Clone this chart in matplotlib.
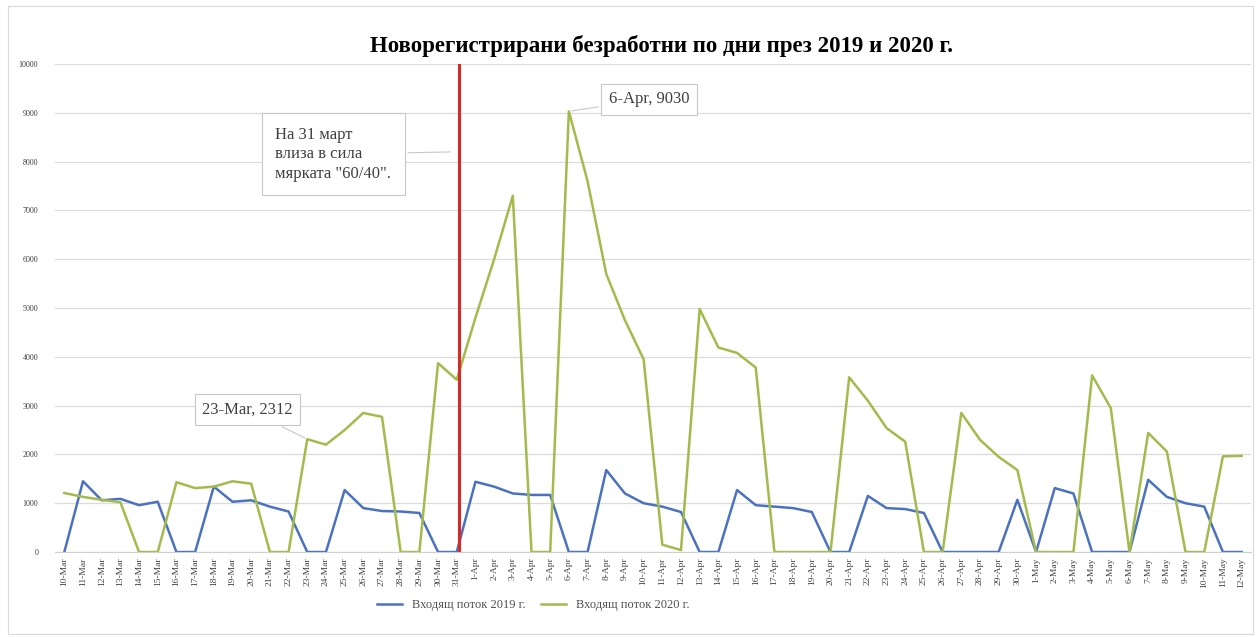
import pandas as pd
import numpy as np
import matplotlib.pyplot as plt
from matplotlib.patches import Rectangle

plt.rcParams['font.family'] = ['Liberation Serif', 'DejaVu Serif']

# days from 10 March to 12 May
dates = pd.date_range('2020-03-10', '2020-05-12')
day_labels = [f"{d.day}-{d.strftime('%b')}" for d in dates]

# incoming flow 2019 (blue)
flow_2019 = [0, 1450, 1060, 1090, 960, 1030, 0, 0, 1340, 1030,
             1060, 930, 830, 0, 0, 1270, 900, 840, 830, 800,
             0, 0, 1440, 1340, 1200, 1170, 1170, 0, 0, 1680,
             1200, 1000, 930, 820, 0, 0, 1270, 960, 930, 900,
             820, 0, 0, 1150, 900, 880, 800, 0, 0, 0,
             0, 1070, 0, 1310, 1200, 0, 0, 0, 1480, 1130,
             1000, 930, 0, 0]

# incoming flow 2020 (green)
flow_2020 = [1210, 1130, 1070, 1020, 0, 0, 1430, 1310, 1340, 1450,
             1400, 0, 0, 2312, 2200, 2500, 2850, 2770, 0, 0,
             3870, 3530, 4800, 6000, 7300, 0, 0, 9030, 7600, 5700,
             4750, 3950, 150, 40, 4980, 4190, 4080, 3780, 0, 0,
             0, 0, 3580, 3100, 2540, 2260, 0, 0, 2850, 2300,
             1950, 1680, 0, 0, 0, 3620, 2950, 0, 2440, 2060,
             0, 0, 1960, 1970]

title = 'Новорегистрирани безработни по дни през 2019 и 2020 г.'
label_2019 = 'Входящ поток 2019 г.'
label_2020 = 'Входящ поток 2020 г.'
note = 'На 31 март\nвлиза в сила\nмярката "60/40".'
measure_day = '31-Mar'

blue = '#4a72c0'
green = '#a2bb4c'
grey_txt = '#404040'

fig = plt.figure(figsize=(12.58, 6.37), dpi=100)
fig.patches.append(Rectangle((0.006, 0.005), 0.99, 0.985, transform=fig.transFigure,
                             fill=False, edgecolor='#d9d9d9', lw=0.8))
ax = fig.add_axes([0.0437, 0.1334, 0.9507, 0.7661])

x = np.arange(len(day_labels))
ax.plot(x, flow_2019, color=blue, lw=1.8, label=label_2019)
ax.plot(x, flow_2020, color=green, lw=1.8, label=label_2020)

# red marker line for the 60/40 measure
red_x = day_labels.index(measure_day)
ax.axvline(red_x + 0.1, color='#d42a2a', lw=2.2, zorder=3)

ax.set_xlim(-0.5, len(x) - 0.5)
ax.set_ylim(0, 10000)
ax.set_yticks(np.arange(0, 10001, 1000))
ax.set_xticks(x)
ax.set_xticklabels(day_labels, rotation=90, fontsize=6.8, color=grey_txt)
ax.tick_params(axis='y', labelsize=5.8, labelcolor=grey_txt, length=0, pad=12)
ax.tick_params(axis='x', length=0, pad=4)
ax.grid(axis='y', color='#dcdcdc', lw=0.9)
ax.set_axisbelow(True)
for side in ['top', 'right', 'left']:
    ax.spines[side].set_visible(False)
ax.spines['bottom'].set_color('#d0d0d0')

box = dict(boxstyle='square,pad=0.45', fc='white', ec='#c8c8c8', lw=0.8)
leader = dict(arrowstyle='-', color='#c8c8c8', lw=0.8)

# data callouts
i_mar = day_labels.index('23-Mar')
ax.annotate(f'{day_labels[i_mar]}, {flow_2020[i_mar]}', xy=(i_mar, flow_2020[i_mar]),
            xytext=(9.8, 2920), ha='center', va='center', fontsize=12,
            color=grey_txt, bbox=box, arrowprops=leader)
i_apr = int(np.argmax(flow_2020))
ax.annotate(f'{day_labels[i_apr]}, {flow_2020[i_apr]}', xy=(i_apr, flow_2020[i_apr]),
            xytext=(31.3, 9280), ha='center', va='center', fontsize=12,
            color=grey_txt, bbox=box, arrowprops=leader)

# measure note
ax.annotate(note, xy=(red_x - 0.2, 8200), xytext=(14.4, 8150), ha='center',
            va='center', multialignment='left', fontsize=12, color=grey_txt,
            linespacing=1.3,
            bbox=dict(boxstyle='square,pad=0.8', fc='white', ec='#c8c8c8', lw=0.8),
            arrowprops=leader)

fig.text(0.526, 0.928, title, ha='center', va='center', fontsize=16.5,
         fontweight='bold')

fig.legend(loc='center', bbox_to_anchor=(0.424, 0.05), ncol=2, frameon=False,
           fontsize=9, handlelength=2.0, columnspacing=1.2,
           labelcolor='#505050')

fig.savefig('out.png', dpi=100)
